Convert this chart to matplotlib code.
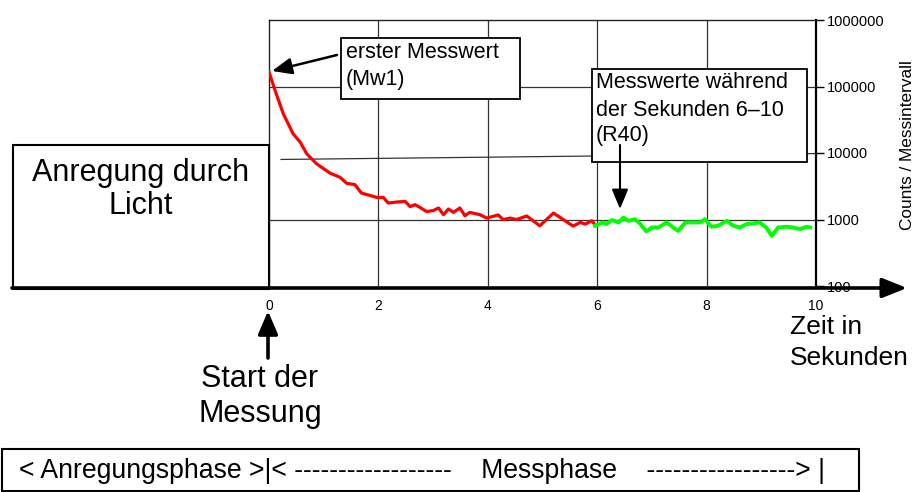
import matplotlib
matplotlib.use("Agg")
import matplotlib.pyplot as plt
from matplotlib.patches import Rectangle, FancyArrowPatch
from matplotlib.ticker import FixedLocator, NullLocator, FuncFormatter

plt.rcParams['font.family'] = ['Liberation Sans', 'DejaVu Sans']

# Decay curve (seconds, counts per interval).
red_t = [0, 0.11, 0.26, 0.44, 0.57, 0.69, 0.87, 1.12, 1.30, 1.42, 1.57, 1.69,
         1.97, 2.09, 2.18, 2.33, 2.49, 2.58, 2.67, 2.76, 2.88, 3.00, 3.10, 3.19,
         3.28, 3.37, 3.49, 3.58, 3.67, 3.86, 3.98, 4.19, 4.28, 4.41, 4.53, 4.71,
         4.95, 5.20, 5.56, 5.69, 5.78, 5.90, 5.96]
red_c = [166000, 87700, 39100, 19500, 14600, 9730, 6880, 4960, 4310, 3500, 3350, 2500,
         2150, 2150, 1770, 1830, 1870, 1560, 1670, 1520, 1320, 1360, 1490, 1180,
         1440, 1280, 1490, 1140, 1280, 1180, 1050, 1170, 1000, 1050, 1000, 1130,
         805, 1250, 796, 904, 853, 957, 834]

# Seconds 6-10 (R40).
green_t = [5.96, 6.11, 6.17, 6.27, 6.39, 6.48, 6.57, 6.69, 6.78, 6.90, 7.00, 7.12,
           7.27, 7.39, 7.48, 7.61, 7.76, 7.88, 7.97, 8.09, 8.21, 8.37, 8.49, 8.61,
           8.73, 8.85, 8.97, 9.09, 9.19, 9.31, 9.46, 9.58, 9.71, 9.83, 9.89]
green_c = [805, 904, 853, 981, 904, 1070, 957, 1010, 873, 661, 759, 759,
           904, 759, 676, 904, 904, 904, 1010, 778, 805, 957, 805, 759,
           853, 873, 904, 759, 569, 759, 778, 759, 718, 778, 759]

x_ticks = [0, 2, 4, 6, 8, 10]
y_ticks = [100, 1000, 10000, 100000, 1000000]

W, H = 915, 492
fig = plt.figure(figsize=(W / 100, H / 100), dpi=100)


def fx(x):
    return x / W


def fy(y):
    return 1 - y / H


ax = fig.add_axes([fx(269), fy(286), (816 - 269) / W, (286 - 20) / H])
ax.set_yscale("log")
ax.set_xlim(0, 10)
ax.set_ylim(100, 1000000)

# grid: the 10000 line is slightly skewed in the original
grid = "#333333"
for x in [2, 4, 6, 8]:
    ax.axvline(x, color=grid, lw=0.9, zorder=1)
for y in [1000, 100000]:
    ax.axhline(y, color=grid, lw=0.9, zorder=1)
ax.plot([0.22, 10], [8000, 9800], color=grid, lw=0.9, zorder=1)

ax.plot(red_t, red_c, color="#ff0000", lw=2.3, zorder=3)
ax.plot(green_t, green_c, color="#00ff00", lw=2.8, zorder=3)

ax.xaxis.set_major_locator(FixedLocator(x_ticks))
ax.yaxis.set_major_locator(FixedLocator(y_ticks))
ax.yaxis.set_minor_locator(NullLocator())
ax.yaxis.set_major_formatter(FuncFormatter(lambda v, p: str(int(v))))
ax.yaxis.tick_right()
ax.tick_params(axis="x", length=0, pad=9, labelsize=10)
ax.tick_params(axis="y", length=6, width=1, pad=2, labelsize=10.5)

ax.spines["bottom"].set_visible(False)
for s in ["top", "left"]:
    ax.spines[s].set_color("#222222")
    ax.spines[s].set_linewidth(1)
ax.spines["right"].set_linewidth(1.6)


def box(x0, y0, x1, y1, lw=1.3):
    fig.add_artist(Rectangle((fx(x0), fy(y1)), (x1 - x0) / W, (y1 - y0) / H,
                             transform=fig.transFigure, facecolor="white",
                             edgecolor="black", lw=lw, zorder=4))


def lines(x, ys, texts, size, ha="left"):
    for y, t in zip(ys, texts):
        fig.text(fx(x), fy(y), t, fontsize=size, ha=ha, va="center", zorder=5)


def arrow(x0, y0, x1, y1, lw, hl, hw):
    fig.add_artist(FancyArrowPatch((fx(x0), fy(y0)), (fx(x1), fy(y1)),
                                   transform=fig.transFigure,
                                   arrowstyle=f"-|>,head_length={hl},head_width={hw}",
                                   mutation_scale=10, lw=lw, color="black",
                                   shrinkA=0, shrinkB=0, zorder=6))


# boxes and labels
box(13, 145, 269, 289, lw=1.5)
lines(141, [173, 206], ["Anregung durch", "Licht"], 22, ha="center")

box(341, 38, 520, 99)
lines(346, [52, 80], ["erster Messwert", "(Mw1)"], 15.5)
arrow(337, 55, 272, 71, 1.8, 1.2, 0.5)

box(592, 69, 807, 162)
lines(596, [83, 110, 136], ["Messwerte während", "der Sekunden 6–10", "(R40)"], 15.5)
arrow(620, 145, 620, 209, 1.5, 1.2, 0.5)

# time axis arrow
arrow(12, 288, 907, 288, 2.6, 1.5, 0.6)

lines(260, [379, 414], ["Start der", "Messung"], 22, ha="center")
arrow(268, 358, 268, 311, 2.6, 1.4, 0.6)

lines(790, [327, 358], ["Zeit in", "Sekunden"], 19)

fig.text(fx(907), fy(145), "Counts / Messintervall", rotation=90,
         fontsize=12.4, ha="center", va="center")

box(2, 449, 859, 491, lw=1.5)
lines(19, [471], ["< Anregungsphase >|< ------------------    Messphase    "
                  "-----------------> |"], 19.2)

fig.savefig("out.png", dpi=100)
